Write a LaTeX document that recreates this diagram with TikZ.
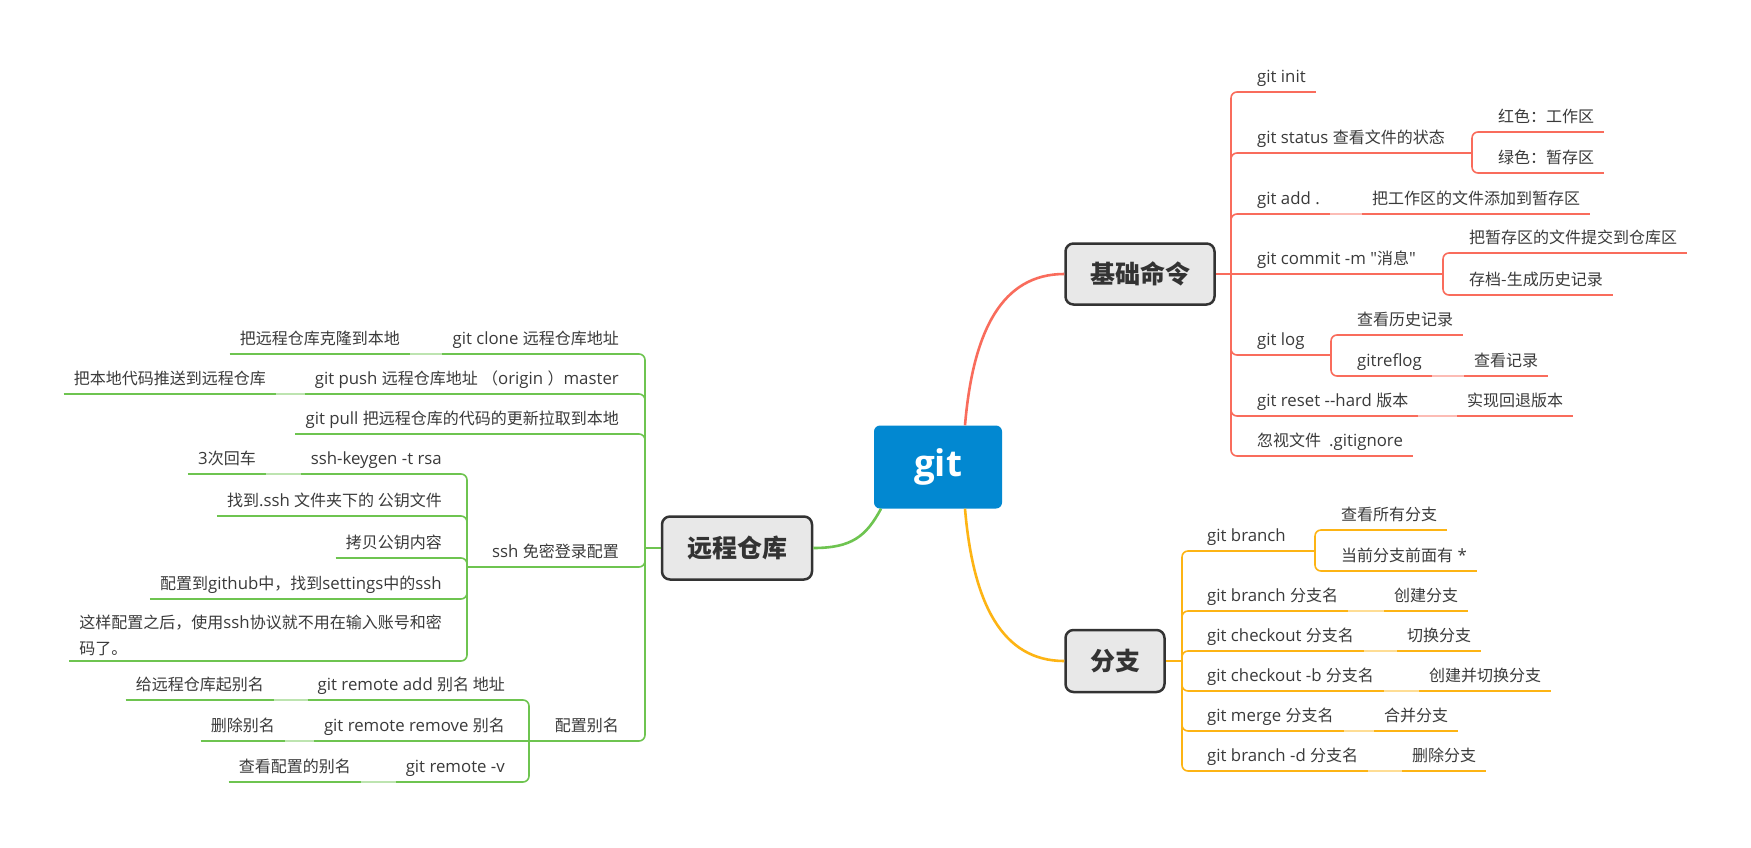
\documentclass[tikz,border=0pt]{standalone}
\usepackage{fontspec}
\defaultfontfeatures[\rmfamily]{}
\setmainfont{Open Sans}[Scale=1.05]
\newfontfamily\zhfont{Noto Sans CJK SC}
\newcommand{\zh}[1]{{\zhfont #1}}
\newcommand{\topicsize}{\fontsize{16}{26}\selectfont}

\definecolor{cR}{RGB}{249,108,92}
\definecolor{cY}{RGB}{253,180,20}
\definecolor{cG}{RGB}{110,196,80}
\definecolor{boxfill}{RGB}{232,232,232}
\definecolor{boxline}{RGB}{51,51,51}
\definecolor{gitblue}{RGB}{2,136,209}
\definecolor{txt}{RGB}{58,58,58}

\tikzset{
  topic/.style={inner xsep=10pt, inner ysep=4pt, text depth=5pt, text height=12pt,
                font=\topicsize, text=txt},
  tr/.style={topic, anchor=south west},
  tl/.style={topic, anchor=south east},
  mainbox/.style={draw=boxline, fill=boxfill, line width=2.5pt, rounded corners=8pt,
                  font=\zhfont\bfseries\fontsize{25}{30}\selectfont, text=boxline},
  rootbox/.style={fill=gitblue, rounded corners=6pt, text=white,
                  font=\bfseries\fontsize{35}{40}\selectfont},
  uline/.style={line width=2.2pt},
  conn/.style={line width=1.6pt, rounded corners=6pt},
  bridge/.style={line width=2pt, draw opacity=.45},
  trunk/.style={line width=2.6pt}
}

\begin{document}
\begin{tikzpicture}[x=1pt,y=-1pt]
\fill[white] (0,0) rectangle (1751,847);
\useasboundingbox (0,0) rectangle (1751,847);

% central topic and main branches
\node[rootbox, minimum width=128pt, minimum height=83pt] (git) at (938,467) {git};
\node[mainbox, minimum width=149pt, minimum height=61pt] (base) at (1140,274) {基础命令};
\node[mainbox, minimum width=99pt, minimum height=62pt] (branch) at (1115,661) {分支};
\node[mainbox, minimum width=150pt, minimum height=63pt] (remote) at (737,548) {远程仓库};

\draw[trunk, cR] ([xshift=27pt]git.north) .. controls +(8,-95) and +(-62,0) .. (base.west);
\draw[trunk, cY] ([xshift=27pt]git.south) .. controls +(8,95) and +(-62,0) .. (branch.west);
\draw[trunk, cG] ([xshift=-57pt]git.south) .. controls +(-15,28) and +(38,0) .. (remote.east);

% ---------------- 基础命令 ----------------
\node[tr] (init)   at (1247,92)  {git init};
\node[tr] (status) at (1247,153) {git status \zh{查看文件的状态}};
\node[tr] (add)    at (1247,214) {git add .};
\node[tr] (commit) at (1247,274) {git commit -m "\zh{消息}"};
\node[tr] (log)    at (1247,355) {git log};
\node[tr] (reset)  at (1247,416) {git reset -{}-hard \zh{版本}};
\node[tr] (ignore) at (1247,456) {\zh{忽视文件}\hspace{8pt}.gitignore};

\node[tr] (st1)    at (1488,132) {\zh{红色：工作区}};
\node[tr] (st2)    at (1488,173) {\zh{绿色：暂存区}};
\node[tr] (addc)   at (1362,214) {\zh{把工作区的文件添加到暂存区}};
\node[tr] (cm1)    at (1459,253) {\zh{把暂存区的文件提交到仓库区}};
\node[tr] (cm2)    at (1459,295) {\zh{存档-生成历史记录}};
\node[tr] (lg1)    at (1347,335) {\zh{查看历史记录}};
\node[tr] (lg2)    at (1347,376) {gitreflog};
\node[tr] (lg2c)   at (1464,376) {\zh{查看记录}};
\node[tr] (resetc) at (1457,416) {\zh{实现回退版本}};

\foreach \n in {init,status,add,commit,log,reset,ignore,st1,st2,addc,cm1,cm2,lg1,lg2,lg2c,resetc}
  \draw[uline, cR] (\n.south west) -- (\n.south east);

\coordinate (rv) at (1231,274);
\draw[conn, cR] (base.east) -- (rv);
\foreach \n in {init,status,add,log,reset,ignore}
  \draw[conn, cR] (rv) |- (\n.south west);
\draw[conn, cR] (rv) -- (commit.south west);

\draw[conn, cR] (status.south east) -- (1472,153) coordinate (stf);
\draw[conn, cR] (stf) |- (st1.south west);
\draw[conn, cR] (stf) |- (st2.south west);
\draw[conn, cR] (commit.south east) -- (1443,274) coordinate (cmf);
\draw[conn, cR] (cmf) |- (cm1.south west);
\draw[conn, cR] (cmf) |- (cm2.south west);
\draw[conn, cR] (log.south east) -- (1331,355) coordinate (lgf);
\draw[conn, cR] (lgf) |- (lg1.south west);
\draw[conn, cR] (lgf) |- (lg2.south west);
\draw[bridge, cR] (add.south east) -- (addc.south west);
\draw[bridge, cR] (lg2.south east) -- (lg2c.south west);
\draw[bridge, cR] (reset.south east) -- (resetc.south west);

% ---------------- 分支 ----------------
\node[tr] (br)   at (1197,551) {git branch};
\node[tr] (brn)  at (1197,611) {git branch \zh{分支名}};
\node[tr] (co)   at (1197,651) {git checkout \zh{分支名}};
\node[tr] (cob)  at (1197,691) {git checkout -b \zh{分支名}};
\node[tr] (mg)   at (1197,731) {git merge \zh{分支名}};
\node[tr] (brd)  at (1197,771) {git branch -d \zh{分支名}};

\node[tr] (br1)  at (1331,530) {\zh{查看所有分支}};
\node[tr] (br2)  at (1331,571) {\zh{当前分支前面有} *};
\node[tr] (brnc) at (1384,611) {\zh{创建分支}};
\node[tr] (coc)  at (1397,651) {\zh{切换分支}};
\node[tr] (cobc) at (1419,691) {\zh{创建并切换分支}};
\node[tr] (mgc)  at (1374,731) {\zh{合并分支}};
\node[tr] (brdc) at (1402,771) {\zh{删除分支}};

\foreach \n in {br,brn,co,cob,mg,brd,br1,br2,brnc,coc,cobc,mgc,brdc}
  \draw[uline, cY] (\n.south west) -- (\n.south east);

\coordinate (yv) at (1182,661);
\draw[conn, cY] (branch.east) -- (yv);
\foreach \n in {br,brn,co,cob,mg,brd}
  \draw[conn, cY] (yv) |- (\n.south west);
\draw[conn, cY] (br.south east) -- (1315,551) coordinate (brf);
\draw[conn, cY] (brf) |- (br1.south west);
\draw[conn, cY] (brf) |- (br2.south west);
\draw[bridge, cY] (brn.south east) -- (brnc.south west);
\draw[bridge, cY] (co.south east) -- (coc.south west);
\draw[bridge, cY] (cob.south east) -- (cobc.south west);
\draw[bridge, cY] (mg.south east) -- (mgc.south west);
\draw[bridge, cY] (brd.south east) -- (brdc.south west);

% ---------------- 远程仓库 ----------------
\node[tl] (clone) at (629,354) {git clone \zh{远程仓库地址}};
\node[tl] (push)  at (629,394) {git push \zh{远程仓库地址} \zh{（}origin \zh{）}master};
\node[tl] (pull)  at (629,434) {git pull \zh{把远程仓库的代码的更新拉取到本地}};
\node[tl] (ssh)   at (629,567) {ssh \zh{免密登录配置}};
\node[tl] (alias) at (629,741) {\zh{配置别名}};

\node[tl] (clonec) at (410,354) {\zh{把远程仓库克隆到本地}};
\node[tl] (pushc)  at (276,394) {\zh{把本地代码推送到远程仓库}};

\node[tl] (k1)  at (452,474) {ssh-keygen -t rsa};
\node[tl] (k1c) at (266,474) {3\zh{次回车}};
\node[tl] (k2)  at (452,516) {\zh{找到}.ssh \zh{文件夹下的 公钥文件}};
\node[tl] (k3)  at (452,558) {\zh{拷贝公钥内容}};
\node[tl] (k4)  at (452,599) {\zh{配置到}github\zh{中，找到}settings\zh{中的}ssh};
\node[anchor=south east, inner xsep=10pt, inner ysep=5pt, align=left,
      font=\topicsize, text=txt] (k5) at (452,661)
  {\zh{这样配置之后，使用}ssh\zh{协议就不用在输入账号和密}\\\zh{码了。}};

\node[tl] (a1)  at (515,700) {git remote add \zh{别名 地址}};
\node[tl] (a1c) at (274,700) {\zh{给远程仓库起别名}};
\node[tl] (a2)  at (515,741) {git remote remove \zh{别名}};
\node[tl] (a2c) at (285,741) {\zh{删除别名}};
\node[tl] (a3)  at (515,782) {git remote -v};
\node[tl] (a3c) at (361,782) {\zh{查看配置的别名}};

\foreach \n in {clone,push,pull,ssh,alias,clonec,pushc,k1,k1c,k2,k3,k4,k5,a1,a1c,a2,a2c,a3,a3c}
  \draw[uline, cG] (\n.south west) -- (\n.south east);

\coordinate (gv) at (645,548);
\draw[conn, cG] (remote.west) -- (gv);
\foreach \n in {clone,push,pull,ssh,alias}
  \draw[conn, cG] (gv) |- (\n.south east);

\draw[conn, cG] (ssh.south west) -- (467,567) coordinate (sshf);
\foreach \n in {k1,k2,k3,k4,k5}
  \draw[conn, cG] (sshf) |- (\n.south east);
\draw[conn, cG] (alias.south west) -- (529,741) coordinate (alf);
\draw[conn, cG] (alf) |- (a1.south east);
\draw[conn, cG] (alf) -- (a2.south east);
\draw[conn, cG] (alf) |- (a3.south east);

\draw[bridge, cG] (clone.south west) -- (clonec.south east);
\draw[bridge, cG] (push.south west) -- (pushc.south east);
\draw[bridge, cG] (k1.south west) -- (k1c.south east);
\draw[bridge, cG] (a1.south west) -- (a1c.south east);
\draw[bridge, cG] (a2.south west) -- (a2c.south east);
\draw[bridge, cG] (a3.south west) -- (a3c.south east);
\end{tikzpicture}
\end{document}
